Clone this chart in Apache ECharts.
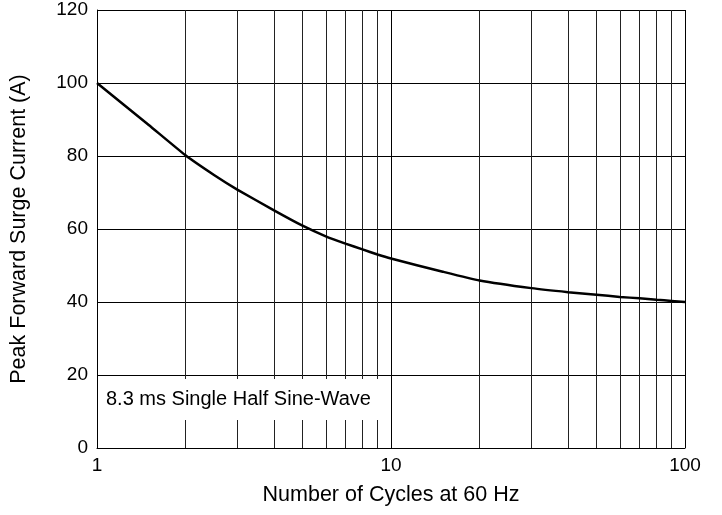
<!DOCTYPE html>
<html>
<head>
<meta charset="utf-8">
<script src="https://cdn.jsdelivr.net/npm/echarts@6/dist/echarts.min.js"></script>
<style>html,body{margin:0;padding:0;background:#fff}#c{width:722px;height:515px}</style>
</head>
<body>
<div id="c"></div>
<script>
var cycles = [1, 1.5, 2, 2.5, 3, 4, 5, 6, 7, 8, 9, 10, 15, 20, 30, 40, 50, 60, 70, 80, 90, 100];
var current = [100, 88.5, 80.2, 74.8, 70.8, 65.1, 60.9, 58.0, 56.0, 54.4, 53.0, 51.9, 48.3, 45.9, 43.8, 42.7, 42.0, 41.4, 41.0, 40.6, 40.3, 40.0];
var minorGridX = [2, 3, 4, 5, 6, 7, 8, 9, 20, 30, 40, 50, 60, 70, 80, 90];
var xTitle = 'Number of Cycles at 60 Hz';
var yTitle = 'Peak Forward Surge Current (A)';
var note = '8.3 ms Single Half Sine-Wave';

var font = 'Arial, "Liberation Sans", sans-serif';
var chart = echarts.init(document.getElementById('c'), null, {renderer: 'canvas'});
var pts = cycles.map(function (c, i) { return [c, current[i]]; });
chart.setOption({
  animation: false,
  backgroundColor: '#fff',
  grid: {left: 97, right: 37, top: 10, bottom: 67, containLabel: false},
  xAxis: {
    type: 'log', logBase: 10, min: 1, max: 100,
    name: xTitle, nameLocation: 'middle', nameGap: 36,
    nameTextStyle: {fontFamily: font, fontSize: 21.5, color: '#000'},
    axisLine: {show: true, lineStyle: {color: '#000', width: 1}},
    axisTick: {show: false},
    axisLabel: {fontFamily: font, fontSize: 19, color: '#000', margin: 8},
    splitLine: {show: true, lineStyle: {color: '#000', width: 1}},
    minorTick: {show: false}
  },
  yAxis: {
    type: 'value', min: 0, max: 120, interval: 20,
    name: yTitle, nameLocation: 'middle', nameGap: 67,
    nameTextStyle: {fontFamily: font, fontSize: 21.5, color: '#000'},
    axisLine: {show: true, lineStyle: {color: '#000', width: 1}},
    axisTick: {show: false},
    axisLabel: {fontFamily: font, fontSize: 19, color: '#000', margin: 9},
    splitLine: {show: true, lineStyle: {color: '#000', width: 1}}
  },
  series: [{
    type: 'line', data: pts, smooth: 0.15, showSymbol: false, symbol: 'none',
    lineStyle: {color: '#000', width: 2.5}, z: 5,
    markLine: {
      silent: true, symbol: ['none', 'none'], label: {show: false},
      lineStyle: {color: '#222', width: 1, type: 'solid'},
      animation: false,
      data: minorGridX.map(function (v) { return {xAxis: v}; })
    }
  }],
  graphic: [{
    type: 'text', left: 98, top: 379, z: 100,
    style: {
      text: note, fontFamily: font, fontSize: 20, fill: '#000',
      backgroundColor: '#fff', padding: [10, 9, 11, 8]
    }
  }]
});
</script>
</body>
</html>
